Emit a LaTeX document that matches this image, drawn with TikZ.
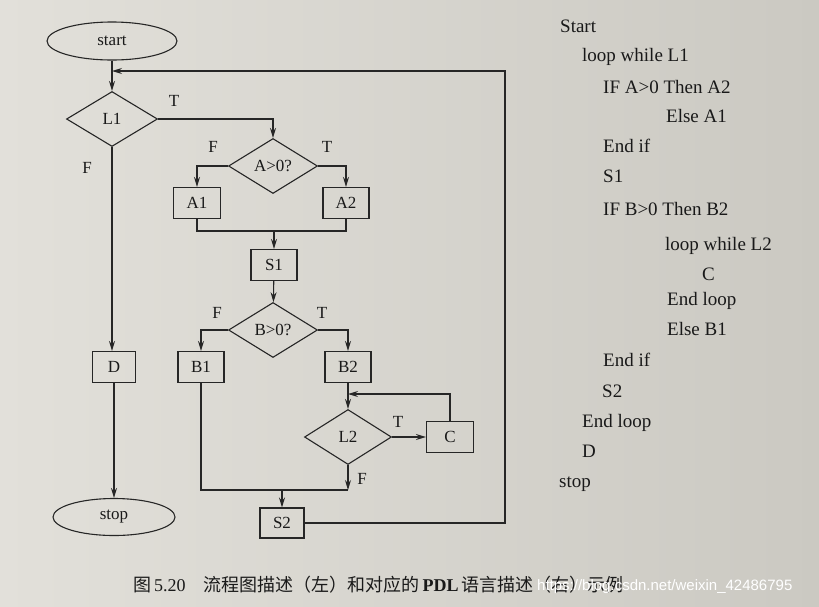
\documentclass[tikz,border=0pt]{standalone}
\usepackage{fontspec}
\setmainfont{Liberation Serif}
\usepackage{tikz}
\usetikzlibrary{arrows.meta,shapes.geometric}
\newfontfamily\cjk{Noto Sans CJK SC}
\newfontfamily\wmfont{Liberation Sans}
\definecolor{papercol}{RGB}{226,224,218}
\definecolor{paperdark}{RGB}{203,201,194}
\colorlet{linecol}{black!85}
\colorlet{textcol}{black!90}
\tikzset{
  every node/.style={font=\fontsize{17}{20}\selectfont, text=textcol},
  terminal/.style={ellipse, draw=linecol, line width=1.1pt,
    minimum width=130pt, minimum height=38pt, inner sep=0pt},
  decision/.style={diamond, draw=linecol, line width=1.1pt,
    minimum width=89pt, minimum height=55pt, inner sep=0pt},
  process/.style={rectangle, draw=linecol, line width=1.1pt,
    minimum width=46pt, minimum height=31pt, inner sep=0pt},
  branch/.style={inner sep=0pt},
  pdl/.style={anchor=base west, inner sep=0pt, font=\fontsize{19}{22}\selectfont},
  flow/.style={draw=linecol, line width=1.1pt},
}

\begin{document}
\begin{tikzpicture}[x=1pt, y=-1pt, >={Stealth[length=10pt,width=6pt]}]

  % Paper background.
  \shade[left color=papercol, right color=paperdark] (0,0) rectangle (819,606);
  \useasboundingbox (0,0) rectangle (819,606);

  % Terminals.
  \node[terminal] (start) at (112,41) {start};
  \node[terminal, minimum width=122pt, minimum height=37pt] (stop) at (114,517) {stop};

  % Decisions.
  \node[decision, minimum width=91pt] (L1) at (112,119) {L1};
  \node[decision] (Apos) at (273,166) {A>0?};
  \node[decision] (Bpos) at (273,330) {B>0?};
  \node[decision, minimum width=87pt] (L2) at (348,437) {L2};

  % Process boxes.
  \node[process, minimum width=43pt] (D) at (114,367) {D};
  \node[process, minimum width=47pt] (A1) at (197,203) {A1};
  \node[process] (A2) at (346,203) {A2};
  \node[process] (S1) at (274,265) {S1};
  \node[process] (B1) at (201,367) {B1};
  \node[process] (B2) at (348,367) {B2};
  \node[process, minimum width=47pt] (C) at (450,437) {C};
  \node[process, minimum width=44pt, minimum height=30pt] (S2) at (282,523) {S2};

  % Bends and joins.
  \coordinate (loopin) at (112,71);
  \coordinate (corner) at (505,71);
  \coordinate (mergeA) at (274,231);
  \coordinate (loopC)  at (348,394);
  \coordinate (mergeB) at (348,490);
  \coordinate (mergeS) at (282,490);

  % Outer loop (L1).
  \draw[flow, ->] (start) -- (L1);
  \draw[flow, ->] (L1.east) -| (Apos.north);
  \draw[flow, ->] (L1.south) -- (L1.south |- D.north);
  \draw[flow, ->] (D) -- (stop);
  \draw[flow, ->] (S2.east) -| (corner) -- (loopin);

  % First selection (A>0?).
  \draw[flow, ->] (Apos.west) -| (A1.north);
  \draw[flow, ->] (Apos.east) -| (A2.north);
  \draw[flow] (A1.south) |- (mergeA) -| (A2.south);
  \draw[flow, ->] (mergeA) -- (S1);
  \draw[flow, ->] (S1) -- (Bpos);

  % Second selection (B>0?) with inner loop (L2).
  \draw[flow, ->] (Bpos.west) -| (B1.north);
  \draw[flow, ->] (Bpos.east) -| (B2.north);
  \draw[flow, ->] (B2) -- (L2);
  \draw[flow, ->] (L2) -- (C);
  \draw[flow, ->] (C.north) |- (loopC);
  \draw[flow, ->] (L2.south) -- (mergeB);
  \draw[flow] (B1.south) |- (mergeB);
  \draw[flow, ->] (mergeS) -- (S2);

  % Branch labels.
  \node[branch] (L1t) at (174,101) {T};
  \node[branch] (L1f) at (87,168) {F};
  \node[branch] (Af) at (213,147) {F};
  \node[branch] (At) at (327,147) {T};
  \node[branch] (Bf) at (217,313) {F};
  \node[branch] (Bt) at (322,313) {T};
  \node[branch] (L2t) at (398,422) {T};
  \node[branch] (L2f) at (362,479) {F};

  % PDL listing.
  \foreach \px/\py/\txt in {560/32/Start, 582/61/loop while L1,
      603/93/IF A>0 Then A2, 666/122/Else A1, 603/152/End if,
      603/182/S1, 603/215/IF B>0 Then B2, 665/250/loop while L2,
      702/280/C, 667/305/End loop, 667/335/Else B1, 603/366/End if,
      602/397/S2, 582/427/End loop, 582/457/D, 559/487/stop} {
    \node[pdl] (pdl-\py) at (\px,\py) {\txt};
  }

  % Caption and watermark.
  \node[anchor=base west, inner sep=0pt, font=\fontsize{18}{20}\selectfont] (caption) at (133,591)
    {{\cjk 图}\,5.20\quad{\cjk 流程图描述（左）和对应的}\,\textbf{PDL}\,{\cjk 语言描述（右）示例}};
  \node[anchor=base west, inner sep=0pt, text=white, font=\wmfont\fontsize{15}{18}\selectfont] (mark) at (537,590)
    {https://blog.csdn.net/weixin\_42486795};

\end{tikzpicture}
\end{document}
